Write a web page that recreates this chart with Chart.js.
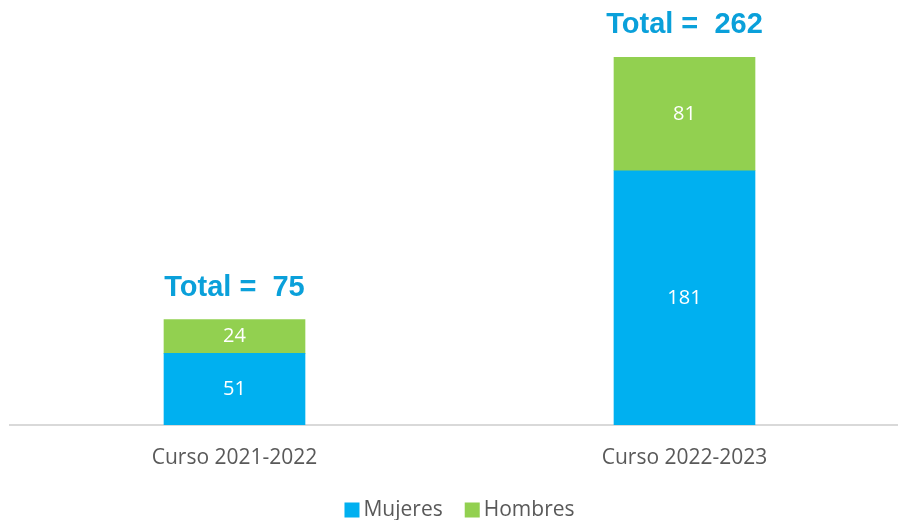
<!DOCTYPE html>
<html><head><meta charset="utf-8">
<script src="https://cdn.jsdelivr.net/npm/chart.js@4"></script>
<style>html,body{margin:0;padding:0;overflow:hidden;background:#fff;width:898px;height:520px}
#wrap{position:absolute;left:0;top:0;width:920px;height:520px}</style>
</head><body><div id="wrap"><canvas id="c" width="920" height="520"></canvas></div>
<script>
const categories = ["Curso 2021-2022", "Curso 2022-2023"];
const mujeres = [51, 181];
const hombres = [24, 81];
const totals = [75, 262];
const seriesNames = ["Mujeres", "Hombres"];

const labelPlugin = {
  id: 'labels',
  afterDatasetsDraw(chart) {
    const ctx = chart.ctx;
    ctx.save();
    ctx.textAlign = 'center';
    ctx.textBaseline = 'middle';
    ctx.fillStyle = '#ffffff';
    ctx.font = '20px "Open Sans"';
    chart.data.datasets.forEach((ds, di) => {
      chart.getDatasetMeta(di).data.forEach((bar, i) => {
        const mid = (bar.y + bar.base) / 2;
        ctx.fillText(String(ds.data[i]), bar.x, mid);
      });
    });
    ctx.fillStyle = '#0AA0DA';
    ctx.font = 'bold 29px "Liberation Sans"';
    const top = chart.getDatasetMeta(1).data;
    top.forEach((bar, i) => {
      ctx.fillText('Total =  ' + totals[i], bar.x, bar.y - 32);
    });
    ctx.restore();
  },
  afterDraw(chart) {
    // legend
    const ctx = chart.ctx;
    ctx.save();
    ctx.font = '21px "Open Sans"';
    ctx.textBaseline = 'middle';
    ctx.textAlign = 'left';
    const box = 15, gapText = 4, gapItem = 22, y = 510;
    const items = chart.data.datasets.map(d => ({ text: d.label, color: d.backgroundColor, w: ctx.measureText(d.label).width }));
    let total = 0;
    items.forEach((it, i) => { total += box + gapText + it.w + (i < items.length - 1 ? gapItem : 0); });
    const ca = chart.chartArea;
    let x = (ca.left + ca.right) / 2 - total / 2;
    items.forEach(it => {
      ctx.fillStyle = it.color;
      ctx.fillRect(x, y - box / 2, box, box);
      x += box + gapText;
      ctx.fillStyle = '#595959';
      ctx.fillText(it.text, x, y);
      x += it.w + gapItem;
    });
    ctx.restore();
  }
};

new Chart(document.getElementById('c'), {
  type: 'bar',
  data: {
    labels: categories,
    datasets: [
      { label: seriesNames[0], data: mujeres, backgroundColor: '#00B0F0', barThickness: 141 },
      { label: seriesNames[1], data: hombres, backgroundColor: '#92D050', barThickness: 141 }
    ]
  },
  options: {
    responsive: false,
    animation: false,
    layout: { padding: { top: 57, left: 9.5, right: 10.5, bottom: 0 } },
    scales: {
      x: {
        stacked: true,
        grid: { display: false, drawTicks: false },
        border: { display: true, color: '#d9d9d9', width: 2 },
        ticks: { color: '#595959', font: { family: '"Open Sans"', size: 21 }, padding: 20 },
        afterFit(s) { s.height = 95; }
      },
      y: {
        stacked: true,
        display: false,
        min: 0,
        max: 262
      }
    },
    plugins: {
      legend: { display: false },
      tooltip: { enabled: false }
    }
  },
  plugins: [labelPlugin]
});
</script></body></html>
